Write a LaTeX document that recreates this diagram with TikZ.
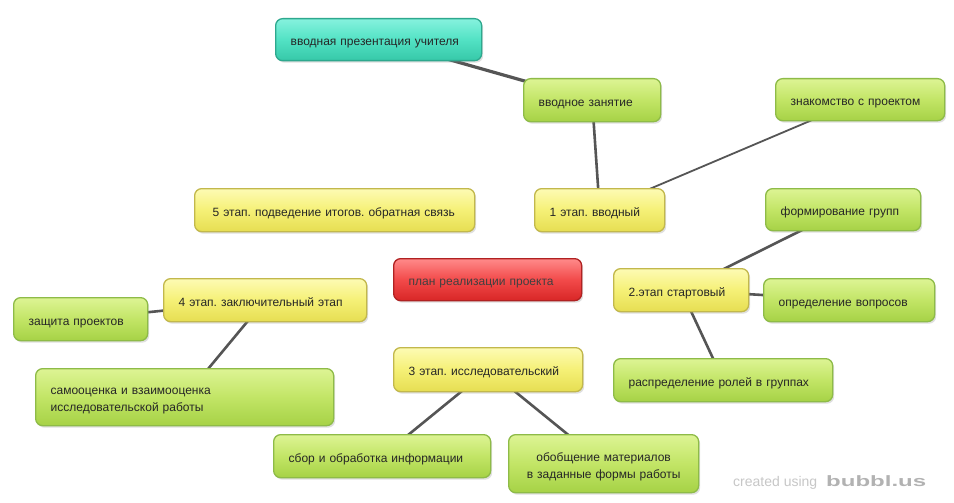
\documentclass[tikz,border=0pt]{standalone}
\usepackage{fontspec}
\setmainfont{Liberation Sans}
\newfontfamily\logofont[FakeStretch=1.6]{Liberation Sans Bold}
\usetikzlibrary{shadows}
\definecolor{gtop}{HTML}{DDF494}
\definecolor{gmid}{HTML}{C2E566}
\definecolor{gbot}{HTML}{A6D246}
\definecolor{gbrd}{HTML}{8EBB48}
\definecolor{ytop}{HTML}{FDFBB4}
\definecolor{ymid}{HTML}{F5F076}
\definecolor{ybot}{HTML}{E6DE52}
\definecolor{ybrd}{HTML}{C2B84C}
\definecolor{ttop}{HTML}{86F2DE}
\definecolor{tmid}{HTML}{52E2C4}
\definecolor{tbot}{HTML}{36C8A8}
\definecolor{tbrd}{HTML}{2EA88E}
\definecolor{rtop}{HTML}{FF8A8A}
\definecolor{rmid}{HTML}{F24A4A}
\definecolor{rbot}{HTML}{D82626}
\definecolor{rbrd}{HTML}{B02222}
\definecolor{linec}{HTML}{555555}
\pgfdeclarelayer{bg}
\pgfdeclarelayer{paper}
\pgfsetlayers{paper,bg,main}
\frenchspacing
\tikzset{
  x=1pt, y=-1pt,
  bub/.style={anchor=north west, rounded corners=7pt, line width=1.3pt,
    font=\fontsize{12}{15}\selectfont, text=black!85, inner xsep=15pt, inner ysep=0pt,
    align=left, text height=12pt, text depth=0pt,
    drop shadow={shadow xshift=1.5pt, shadow yshift=-2pt, opacity=0.25}},
  two/.style={font=\fontsize{12}{17}\selectfont, text height=12pt, text depth=17pt},
  gbox/.style={bub, draw=gbrd, top color=gtop, bottom color=gbot, middle color=gmid},
  ybox/.style={bub, draw=ybrd, top color=ytop, bottom color=ybot, middle color=ymid},
  tbox/.style={bub, draw=tbrd, top color=ttop, bottom color=tbot, middle color=tmid},
  rbox/.style={bub, draw=rbrd, top color=rtop, bottom color=rbot, middle color=rmid},
  conn/.style={draw=linec, line width=2.6pt},
  thickconn/.style={draw=linec, line width=3.2pt},
  thinconn/.style={draw=linec, line width=1.8pt},
}
\begin{document}
\begin{tikzpicture}
\useasboundingbox (0,0) rectangle (954,503);
\begin{pgfonlayer}{paper}
\fill[white] (0,0) rectangle (954,503);
\end{pgfonlayer}
\node[tbox, text width=176pt, minimum height=42pt] (intro) at (275,18) {вводная презентация учителя};
\node[gbox, text width=107pt, minimum height=43pt] (vz) at (523,78) {вводное занятие};
\node[gbox, text width=139pt, minimum height=42pt] (zp) at (775,78) {знакомство с проектом};
\node[ybox, text width=100pt, minimum height=43pt] (s1) at (534,188) {1 этап. вводный};
\node[ybox, minimum height=43pt, inner xsep=18pt, text width=244pt] (s5) at (194,188) {5 этап. подведение итогов. обратная связь};
\node[gbox, text width=125pt, minimum height=42pt] (fg) at (765,188) {формирование групп};
\node[rbox, text width=158pt, minimum height=42pt, text=black!75] (plan) at (393,258) {план реализации проекта};
\node[ybox, text width=105pt, minimum height=43pt] (s2) at (613,268) {2.этап стартовый};
\node[gbox, text width=141pt, minimum height=43pt] (ov) at (763,278) {определение вопросов};
\node[ybox, text width=173pt, minimum height=43pt] (s4) at (163,278) {4 этап. заключительный этап};
\node[gbox, text width=104pt, minimum height=43pt] (zpr) at (13,297) {защита проектов};
\node[gbox, two, text width=268pt, minimum height=57pt] (so) at (35,368) {самооценка и взаимооценка\\исследовательской работы};
\node[ybox, text width=159pt, minimum height=44pt] (s3) at (393,347) {3 этап. исследовательский};
\node[gbox, text width=189pt, minimum height=43pt] (rr) at (613,358) {распределение ролей в группах};
\node[gbox, text width=187pt, minimum height=43pt] (sb) at (273,434) {сбор и обработка информации};
\node[gbox, two, text width=160pt, minimum height=58pt, align=center] (ob) at (508,434) {обобщение материалов\\в заданные формы работы};
\node[anchor=base west, font=\fontsize{14}{16}\selectfont, text=black!22, inner sep=0pt] (cr) at (733,486) {created using};
\node[anchor=base west, font=\fontsize{15}{16}\logofont, text=black!30, inner sep=0pt] (bu) at (826,486) {bubbl.us};
\begin{pgfonlayer}{bg}
\draw[thickconn] (intro.center) -- (vz.center);
\draw[conn] (vz.center) -- (s1.center);
\draw[thinconn] (s1.center) -- (zp.center);
\draw[conn] (s2.center) -- (fg.center);
\draw[conn] (s2.center) -- (ov.center);
\draw[conn] (s2.center) -- (rr.center);
\draw[conn] (s4.center) -- (zpr.center);
\draw[conn] (s4.center) -- (so.center);
\draw[conn] (s3.center) -- (sb.center);
\draw[conn] (s3.center) -- (ob.center);
\end{pgfonlayer}
\end{tikzpicture}
\end{document}
